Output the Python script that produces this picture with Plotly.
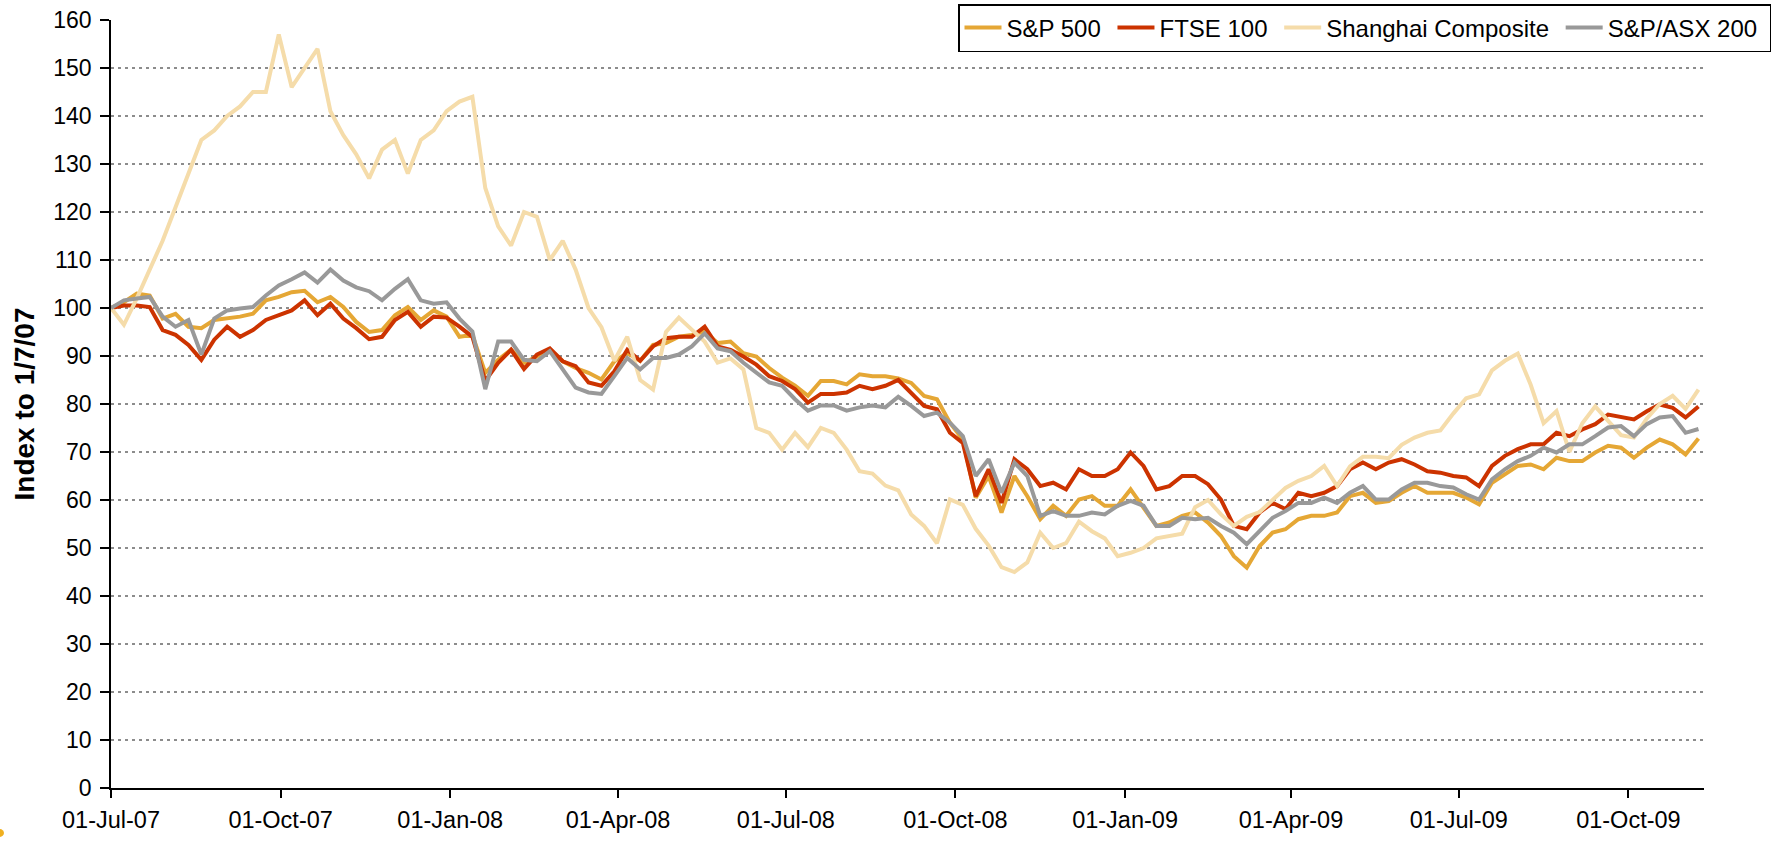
import pandas as pd
import plotly.graph_objects as go

# weekly observations, index level rebased to 100 on 1 July 2007
dates = pd.date_range("2007-07-01", periods=124, freq="7D")

sp500 = [100, 101.2, 103, 102.6, 97.8, 98.8, 96.1, 95.8, 97.5, 97.8,
         98.2, 98.8, 101.6, 102.3, 103.3, 103.6, 101.2, 102.3, 100.2, 97.1,
         95.0, 95.4, 98.5, 100.2, 97.5, 99.5, 98.2, 94.0, 94.4, 86.5,
         89.2, 91.3, 88.6, 89.9, 91.3, 88.9, 87.5, 86.5, 85.1, 88.9,
         90.6, 89.0, 92.3, 92.7, 94.0, 94.4, 95.1, 92.7, 93.0, 90.6,
         89.9, 87.5, 85.5, 83.8, 81.7, 84.8, 84.8, 84.1, 86.2, 85.8,
         85.8, 85.3, 84.4, 81.7, 81.0, 76.1, 72.6, 60.5, 65.0, 57.4,
         65.0, 60.8, 56.0, 58.8, 56.7, 60.1, 60.8, 58.8, 58.8, 62.2,
         58.4, 54.6, 55.3, 56.7, 57.4, 55.3, 52.5, 48.3, 45.9, 50.4,
         53.2, 53.9, 56.0, 56.7, 56.7, 57.4, 60.8, 61.5, 59.4, 59.8,
         61.5, 62.9, 61.5, 61.5, 61.5, 60.5, 59.1, 63.6, 65.3, 67.1,
         67.4, 66.4, 68.8, 68.1, 68.1, 69.9, 71.3, 70.9, 68.8, 70.9,
         72.6, 71.6, 69.5, 72.8]

ftse100 = [100, 100.5, 100.5, 100.2, 95.4, 94.4, 92.3, 89.2, 93.4, 96.1,
           94.0, 95.4, 97.5, 98.5, 99.5, 101.6, 98.5, 100.9, 97.8, 95.8,
           93.5, 94.0, 97.5, 99.2, 96.1, 98.2, 98.0, 96.1, 94.0, 84.8,
           88.6, 91.3, 87.3, 90.3, 91.6, 88.9, 87.9, 84.5, 83.8, 86.8,
           91.3, 89.0, 92.0, 93.7, 94.0, 94.0, 96.1, 92.0, 91.3, 89.9,
           88.2, 85.8, 84.8, 83.1, 80.3, 82.1, 82.1, 82.4, 83.8, 83.1,
           83.8, 85.0, 82.4, 79.6, 78.9, 74.0, 71.9, 60.8, 66.4, 59.4,
           68.5, 66.4, 62.9, 63.6, 62.2, 66.4, 65.0, 65.0, 66.4, 69.9,
           67.1, 62.2, 62.9, 65.0, 65.0, 63.3, 60.1, 54.6, 53.9, 57.4,
           59.4, 58.1, 61.5, 60.8, 61.5, 62.9, 66.4, 67.8, 66.4, 67.8,
           68.5, 67.4, 66.0, 65.7, 65.0, 64.7, 62.9, 67.1, 69.2, 70.6,
           71.6, 71.6, 74.0, 73.3, 74.7, 75.8, 77.8, 77.2, 76.8, 78.5,
           79.9, 79.2, 77.2, 79.5]

shanghai = [100, 96.5, 102, 108, 114, 121, 128, 135, 137, 140,
            142, 145, 145, 157, 146, 150, 154, 141, 136, 132,
            127, 133, 135, 128, 135, 137, 141, 143, 144, 125,
            117, 113, 120, 119, 110, 114, 108, 100, 96, 89,
            94, 85, 83, 95, 98, 95.5, 93, 88.6, 89.5, 87.2,
            75, 74, 70.5, 74, 71, 75, 74, 70.5, 66, 65.5,
            63, 62, 57, 54.6, 51, 60.1, 59, 54, 50.5, 46,
            45, 47, 53.2, 50, 51, 55.5, 53.5, 52, 48.3, 49,
            50, 52, 52.5, 53, 58.5, 60, 57, 54.6, 56.5, 57.5,
            60, 62.5, 64, 65, 67.1, 62.9, 67, 69, 69, 68.7,
            71.5, 73, 74, 74.5, 78, 81.2, 82, 87, 89, 90.5,
            84, 76, 78.5, 70, 76, 79.5, 76.5, 73.5, 73, 77,
            80, 81.7, 79, 83]

asx200 = [100, 101.6, 102, 102.3, 98.2, 96.1, 97.5, 90.3, 97.8, 99.5,
          99.9, 100.2, 102.6, 104.7, 106, 107.4, 105.3, 108, 105.7, 104.3,
          103.5, 101.6, 104, 106, 101.6, 100.9, 101.2, 97.8, 95.1, 83.1,
          93, 93, 89.2, 88.9, 91, 87.2, 83.4, 82.4, 82.1, 85.8,
          89.6, 87.2, 89.6, 89.6, 90.3, 92, 94.7, 91.6, 91, 88.6,
          86.5, 84.5, 83.8, 81, 78.6, 79.7, 79.7, 78.6, 79.3, 79.7,
          79.3, 81.5, 79.6, 77.5, 78.2, 76.1, 73.3, 65, 68.5, 61.5,
          67.8, 65, 56.7, 57.7, 56.7, 56.7, 57.4, 57, 58.8, 59.8,
          58.8, 54.6, 54.6, 56.3, 56, 56.3, 54.6, 53.2, 50.8, 53.5,
          56.3, 57.7, 59.4, 59.4, 60.5, 59.4, 61.5, 62.9, 60.1, 60.1,
          62.2, 63.6, 63.6, 62.9, 62.6, 61.2, 60.1, 64.3, 66.4, 68.1,
          69.2, 70.9, 69.9, 71.6, 71.6, 73.3, 75.1, 75.4, 73.3, 75.8,
          77.2, 77.5, 74, 74.8]

series_names = ["S&P 500", "FTSE 100", "Shanghai Composite", "S&P/ASX 200"]
series_values = [sp500, ftse100, shanghai, asx200]
series_colors = ["#E5A735", "#CC3300", "#F5DCAA", "#999999"]

tick_dates = ["2007-07-01", "2007-10-01", "2008-01-01", "2008-04-01", "2008-07-01",
              "2008-10-01", "2009-01-01", "2009-04-01", "2009-07-01", "2009-10-01"]
tick_labels = ["01-Jul-07", "01-Oct-07", "01-Jan-08", "01-Apr-08", "01-Jul-08",
               "01-Oct-08", "01-Jan-09", "01-Apr-09", "01-Jul-09", "01-Oct-09"]

FONT = "Liberation Sans, Arial, sans-serif"
W, H = 1786, 841
ML, MR, MT, MB = 111, 82, 20, 53
PW, PH = W - ML - MR, H - MT - MB

fig = go.Figure()
for name, vals, col in zip(series_names, series_values, series_colors):
    fig.add_trace(go.Scatter(x=dates, y=vals, name=name + "\u00a0", mode="lines",
                             line=dict(color=col, width=4)))

fig.update_layout(
    width=W, height=H,
    margin=dict(l=ML, r=MR, t=MT, b=MB, autoexpand=False),
    plot_bgcolor="white", paper_bgcolor="white",
    font=dict(family=FONT, size=23, color="black"),
    showlegend=True,
    legend=dict(orientation="h",
                x=(958 - ML) / PW, y=1 + (MT - 4) / PH, xanchor="left", yanchor="top",
                bordercolor="black", borderwidth=1.5, bgcolor="white",
                font=dict(size=24), traceorder="normal", itemwidth=37),
    shapes=[dict(type="circle", xref="paper", yref="paper",
                 xsizemode="pixel", ysizemode="pixel",
                 xanchor=-ML / PW, yanchor=-45 / PH,
                 x0=-5, x1=4, y0=-4, y1=4,
                 fillcolor="#F0B020", line=dict(width=0))],
)

fig.update_xaxes(type="date", range=["2007-07-01", "2009-11-11"],
                 tickvals=tick_dates, ticktext=tick_labels,
                 showgrid=False, showline=True, linecolor="black", linewidth=1.5,
                 ticks="outside", ticklen=8, tickwidth=1.5, tickcolor="black",
                 ticklabelstandoff=2,
                 tickfont=dict(size=23.5), zeroline=False)
fig.update_yaxes(range=[0, 160], dtick=10, tick0=0,
                 showgrid=True, gridcolor="#8C8C8C", gridwidth=1.5, griddash="3px,4px",
                 showline=True, linecolor="black", linewidth=1.5,
                 ticks="outside", ticklen=9, tickwidth=1.5, tickcolor="black",
                 ticklabelstandoff=4,
                 tickfont=dict(size=23), zeroline=False,
                 title=dict(text="<b>Index to 1/7/07</b>", font=dict(size=28), standoff=10))

fig.write_html("out.html", config={"displayModeBar": False},
               post_script="document.body.style.margin='0px';")
